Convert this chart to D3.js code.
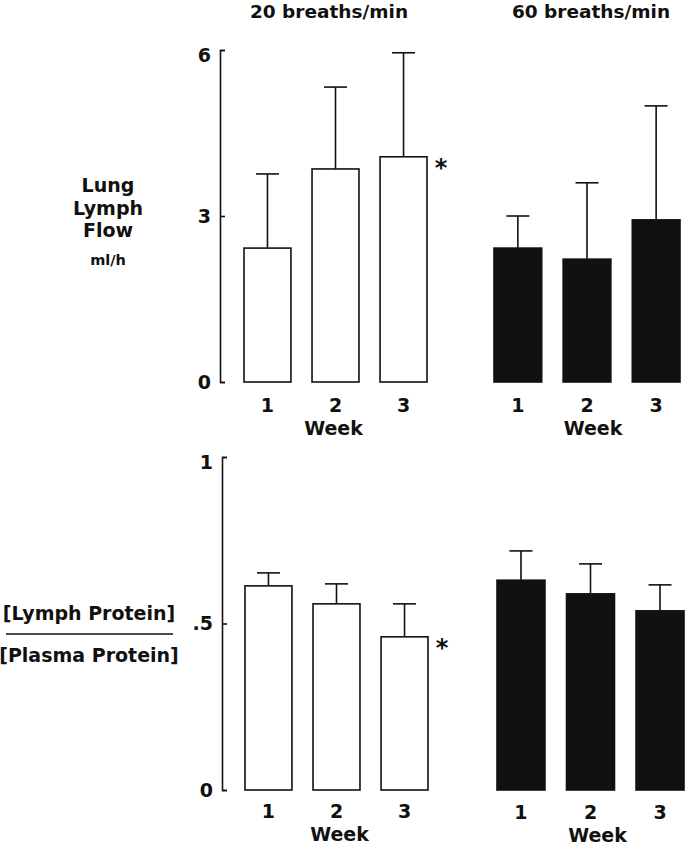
<!DOCTYPE html>
<html>
<head>
<meta charset="utf-8">
<script src="https://cdn.jsdelivr.net/npm/d3@7"></script>
<style>
  body { margin: 0; background: #fff; }
  svg text { font-family: "DejaVu Sans", "Liberation Sans", Arial, sans-serif; font-weight: bold; fill: #111; }
</style>
</head>
<body>
<svg id="chart" width="685" height="845"></svg>
<script>
// Values (mean and +SD)
const weeks = [1, 2, 3];
const flow20 = [2.42, 3.85, 4.07];
const flow20Sd = [1.34, 1.48, 1.88];
const flow60 = [2.42, 2.22, 2.93];
const flow60Sd = [0.58, 1.38, 2.06];
const prot20 = [0.613, 0.559, 0.46];
const prot20Sd = [0.039, 0.06, 0.099];
const prot60 = [0.63, 0.589, 0.538];
const prot60Sd = [0.088, 0.09, 0.078];
const flowTicks = [0, 3, 6];
const protTicks = [0, 0.5, 1];
const rateTitles = ['20 breaths/min', '60 breaths/min'];

const INK = '#111';
const svg = d3.select('#chart');

// y scales for the two rows
const yFlow = d3.scaleLinear().domain([0, 6]).range([382, 50]);
const yProt = d3.scaleLinear().domain([0, 1]).range([790, 457]);

function drawPanel(o) {
  const x = d3.scaleBand().domain(weeks).range(o.xRange).paddingInner(0.31);
  const bw = x.bandwidth();
  const g = svg.append('g');
  const rows = weeks.map((w, i) => ({ w, v: o.values[i], sd: o.sd[i] }));

  g.selectAll('rect.bar').data(rows).join('rect')
    .attr('class', 'bar')
    .attr('x', d => x(d.w))
    .attr('y', d => o.y(d.v))
    .attr('width', bw)
    .attr('height', d => o.y(0) - o.y(d.v))
    .attr('fill', o.filled ? INK : '#fff')
    .attr('stroke', INK)
    .attr('stroke-width', 1.6);

  // error bars: stem + cap
  g.selectAll('line.stem').data(rows).join('line')
    .attr('class', 'stem')
    .attr('x1', d => x(d.w) + bw / 2).attr('x2', d => x(d.w) + bw / 2)
    .attr('y1', d => o.y(d.v)).attr('y2', d => o.y(d.v + d.sd))
    .attr('stroke', INK).attr('stroke-width', 1.6);
  g.selectAll('line.cap').data(rows).join('line')
    .attr('class', 'cap')
    .attr('x1', d => x(d.w) + bw / 2 - 11.5).attr('x2', d => x(d.w) + bw / 2 + 11.5)
    .attr('y1', d => o.y(d.v + d.sd)).attr('y2', d => o.y(d.v + d.sd))
    .attr('stroke', INK).attr('stroke-width', 1.6);

  // week labels
  g.selectAll('text.wk').data(weeks).join('text')
    .attr('class', 'wk')
    .attr('x', d => x(d) + bw / 2)
    .attr('y', o.labelY)
    .attr('text-anchor', 'middle')
    .attr('font-size', 19)
    .text(d => d);
  g.append('text')
    .attr('x', x(2) + bw / 2 + o.weekDx)
    .attr('y', o.weekY)
    .attr('text-anchor', 'middle')
    .attr('font-size', 19)
    .text('Week');

  if (o.axisX != null) {
    const ax = g.append('g')
      .attr('transform', `translate(${o.axisX},0)`)
      .call(d3.axisLeft(o.y).tickValues(o.ticks).tickFormat(o.fmt)
        .tickSizeInner(-5).tickSizeOuter(-5).tickPadding(9));
    ax.attr('font-size', 19).attr('font-family', null);
    ax.selectAll('path, line').attr('stroke', INK).attr('stroke-width', 1.6);
    ax.selectAll('.tick text').attr('dy', d => d === o.ticks[o.ticks.length - 1] ? '0.62em' : '0.34em');
  }

  if (o.star != null) {
    const i = o.star;
    g.append('text')
      .attr('x', x(weeks[i]) + bw + 14)
      .attr('y', o.y(o.values[i]) + 19.5)
      .attr('text-anchor', 'middle')
      .attr('font-size', 24)
      .text('*');
  }
}

drawPanel({ values: flow20, sd: flow20Sd, y: yFlow, xRange: [244, 427], filled: false,
  axisX: 220, ticks: flowTicks, fmt: d3.format('d'), star: 2, labelY: 412, weekY: 435, weekDx: -2 });
drawPanel({ values: flow60, sd: flow60Sd, y: yFlow, xRange: [494, 680], filled: true,
  labelY: 412, weekY: 435, weekDx: 6 });
drawPanel({ values: prot20, sd: prot20Sd, y: yProt, xRange: [245, 428], filled: false,
  axisX: 222, ticks: protTicks, fmt: d => d === 0.5 ? '.5' : d3.format('d')(d), star: 2,
  labelY: 818, weekY: 841, weekDx: 3 });
drawPanel({ values: prot60, sd: prot60Sd, y: yProt, xRange: [497, 684], filled: true,
  labelY: 819, weekY: 842, weekDx: 7 });

// column titles
svg.selectAll('text.title').data(rateTitles).join('text')
  .attr('class', 'title')
  .attr('x', (d, i) => [329, 591][i])
  .attr('y', 18)
  .attr('text-anchor', 'middle')
  .attr('font-size', 18.5)
  .text(d => d);

// row labels
const flowLabel = ['Lung', 'Lymph', 'Flow'];
svg.selectAll('text.flowlab').data(flowLabel).join('text')
  .attr('class', 'flowlab')
  .attr('x', 108)
  .attr('y', (d, i) => 192 + i * 22.5)
  .attr('text-anchor', 'middle')
  .attr('font-size', 19)
  .text(d => d);
svg.append('text')
  .attr('x', 108).attr('y', 265)
  .attr('text-anchor', 'middle')
  .attr('font-size', 14.5)
  .text('ml/h');

svg.append('text')
  .attr('x', 89).attr('y', 620)
  .attr('text-anchor', 'middle')
  .attr('font-size', 19)
  .text('[Lymph Protein]');
svg.append('line')
  .attr('x1', 6).attr('x2', 173).attr('y1', 634).attr('y2', 634)
  .attr('stroke', INK).attr('stroke-width', 1.5);
svg.append('text')
  .attr('x', 89).attr('y', 662)
  .attr('text-anchor', 'middle')
  .attr('font-size', 19)
  .text('[Plasma Protein]');
</script>
</body>
</html>
